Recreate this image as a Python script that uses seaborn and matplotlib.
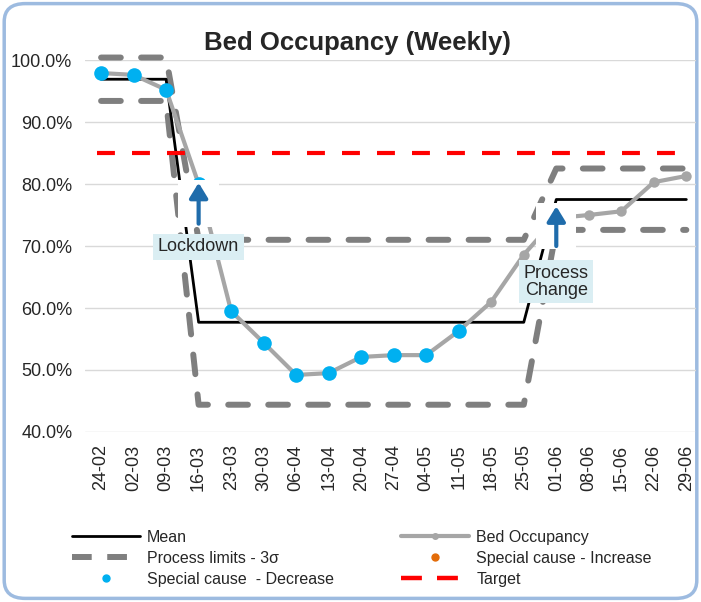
import numpy as np
import pandas as pd
import seaborn as sns
import matplotlib.pyplot as plt
from matplotlib.patches import FancyBboxPatch, Rectangle
from matplotlib.lines import Line2D

# Weekly data
weeks = ["24-02", "02-03", "09-03", "16-03", "23-03", "30-03", "06-04", "13-04",
         "20-04", "27-04", "04-05", "11-05", "18-05", "25-05", "01-06", "08-06",
         "15-06", "22-06", "29-06"]
occupancy = [97.9, 97.6, 95.2, 80.0, 59.5, 54.4, 49.2, 49.5, 52.1, 52.4, 52.4,
             56.3, 61.0, 68.6, 74.5, 75.0, 75.6, 80.3, 81.3]
mean = [96.9] * 3 + [57.7] * 11 + [77.5] * 5
upper = [100.4] * 3 + [71.0] * 11 + [82.5] * 5
lower = [93.4] * 3 + [44.4] * 11 + [72.6] * 5
decrease_flag = [True] * 12 + [False] * 7
target = 85.0

df = pd.DataFrame({"pos": range(len(weeks)), "week": weeks, "occ": occupancy,
                   "mean": mean, "upper": upper, "lower": lower})
df["decrease"] = df["occ"].where(decrease_flag)

sns.set_style("white")
plt.rcParams["font.family"] = ["Liberation Sans", "DejaVu Sans"]

fig = plt.figure(figsize=(7.01, 6.02), dpi=100)
fig.patch.set_facecolor("white")
border = FancyBboxPatch((0.006, 0.006), 0.988, 0.988, boxstyle="round,pad=0,rounding_size=0.03",
                        transform=fig.transFigure, facecolor="white", edgecolor="#9dbbe0",
                        linewidth=2.5, zorder=-5)
fig.patches.append(border)

ax = fig.add_axes([0.121, 0.2824, 0.872, 0.6179])
ax.set_facecolor("none")

grey_dash = dict(color="#7f7f7f", linewidth=4.3, linestyle=(0, (3.3, 3.4)),
                 dash_capstyle="round", clip_on=False)
sns.lineplot(data=df, x="pos", y="upper", ax=ax, zorder=2, **grey_dash)
sns.lineplot(data=df, x="pos", y="lower", ax=ax, zorder=2, **grey_dash)
sns.lineplot(data=df, x="pos", y="mean", ax=ax, color="black", linewidth=2, zorder=3)
ax.axhline(target, xmin=0.02, xmax=0.985, color="#ff0000", linewidth=3,
           linestyle=(0, (4.3, 4.1)), zorder=3)
sns.lineplot(data=df, x="pos", y="occ", ax=ax, color="#a6a6a6", linewidth=3,
             marker="o", markersize=7.5, markeredgewidth=0, zorder=4)
ax.plot(df["pos"], df["decrease"], linestyle="none", marker="o", markersize=10.5,
        color="#00b0f0", markeredgewidth=0, zorder=5, clip_on=False)

# annotations
label_box = dict(boxstyle="square,pad=0.25", facecolor="#daeef3", edgecolor="none")
arrow = dict(arrowstyle="-|>,head_length=0.9,head_width=0.55", color="#1f6cab",
             linewidth=3, shrinkA=0, shrinkB=0)
for x, y0, y1, ylab, text in [(3, 73.6, 80.2, 69.9, "Lockdown"),
                               (14, 70.0, 76.4, 64.2, "Process\nChange")]:
    ax.add_patch(Rectangle((x - 0.62, y0 - 0.5), 1.24, y1 - y0 + 1.0,
                           facecolor="white", edgecolor="none", zorder=6))
    ax.annotate("", xy=(x, y1), xytext=(x, y0), arrowprops=arrow, zorder=7)
    ax.text(x, ylab, text, ha="center", va="center", fontsize=13, color="#262626",
            bbox=label_box, zorder=8, linespacing=1.0)

ax.set_xlim(-0.5, 18.3)
ax.set_ylim(40, 100)
ax.set_yticks(np.arange(40, 101, 10))
ax.set_yticklabels([f"{v:.1f}%" for v in np.arange(40, 101, 10)], fontsize=13, color="#262626")
ax.set_xticks(df["pos"])
ax.set_xticklabels(weeks, rotation=90, fontsize=13, color="#262626")
ax.tick_params(axis="y", length=0, pad=9)
ax.tick_params(axis="x", length=0, pad=9)
ax.grid(axis="y", color="#d9d9d9", linewidth=1)
ax.set_xlabel("")
ax.set_ylabel("")
sns.despine(ax=ax, left=True, bottom=True)

fig.text(0.51, 0.928, "Bed Occupancy (Weekly)", ha="center", va="center",
         fontsize=18.5, fontweight="bold")

handles = [
    Line2D([], [], color="black", linewidth=2),
    Line2D([], [], color="#7f7f7f", linewidth=4.3, linestyle=(0, (3.3, 2.6))),
    Line2D([], [], linestyle="none", marker="o", markersize=5, color="#00b0f0"),
    Line2D([], [], color="#a6a6a6", linewidth=3, marker="o", markersize=4),
    Line2D([], [], linestyle="none", marker="o", markersize=5, color="#e36c09"),
    Line2D([], [], color="#ff0000", linewidth=3.2, linestyle=(0, (4.7, 3.4))),
]
labels = ["Mean", "Process limits - 3σ", "Special cause  - Decrease",
          "Bed Occupancy", "Special cause - Increase", "Target"]
fig.legend(handles, labels, ncol=2, loc="upper left", bbox_to_anchor=(0.094, 0.131),
           frameon=False, fontsize=11.5, handlelength=4.25, handletextpad=0.44,
           columnspacing=4.2, labelspacing=0.39, borderaxespad=0)

fig.savefig("out.png", dpi=100)
